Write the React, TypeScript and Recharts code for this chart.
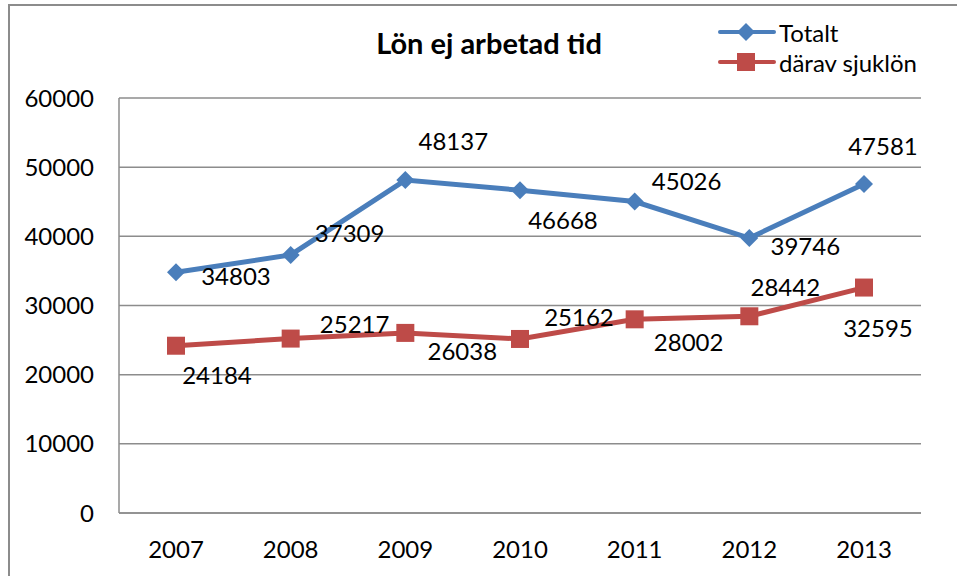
import React from "react";
import { LineChart, Line, XAxis, YAxis, CartesianGrid, LabelList } from "recharts";

const years = ["2007", "2008", "2009", "2010", "2011", "2012", "2013"];
const totalt = [34803, 37309, 48137, 46668, 45026, 39746, 47581];
const sjuklon = [24184, 25217, 26038, 25162, 28002, 28442, 32595];
const yTicks = [0, 10000, 20000, 30000, 40000, 50000, 60000];

// where Excel happened to drop each data label, relative to its point
const totaltLabelOffsets = [[60, 3], [59, -22], [48, -40], [43, 29], [52, -21], [56, 7], [19, -38]];
const sjuklonLabelOffsets = [[41, 29], [64, -15], [57, 18], [59, -22], [54, 22], [36, -30], [14, 40]];

const BLUE = "#4A7EBB";
const RED = "#BE4B48";
const GRID = "#8C8C8C";
const FONT = "Lato, 'Open Sans', sans-serif";
const FS = 24;

const data = years.map((year, i) => ({ year, totalt: totalt[i], sjuklon: sjuklon[i] }));

const Diamond = (props: any) => {
  const { cx, cy, fill } = props;
  if (cx == null || cy == null) return null;
  const r = 9;
  return (
    <polygon
      points={`${cx},${cy - r} ${cx + r},${cy} ${cx},${cy + r} ${cx - r},${cy}`}
      fill={fill}
    />
  );
};

const Square = (props: any) => {
  const { cx, cy, fill } = props;
  if (cx == null || cy == null) return null;
  const s = 18;
  return <rect x={cx - s / 2} y={cy - s / 2} width={s} height={s} fill={fill} />;
};

const makeLabel = (offsets: number[][]) => (props: any) => {
  const { x, y, value, index } = props;
  const [dx, dy] = offsets[index] || [0, -20];
  return (
    <text
      x={x + dx}
      y={y + dy}
      textAnchor="middle"
      dominantBaseline="central"
      fontSize={FS}
      fontFamily={FONT}
      fill="#000"
    >
      {value}
    </text>
  );
};

const LegendBox = () => {
  const rows = [
    { name: "Totalt", color: BLUE, shape: "diamond" },
    { name: "därav sjuklön", color: RED, shape: "square" },
  ];
  return (
    <div style={{ fontFamily: FONT, fontSize: FS, color: "#000" }}>
      {rows.map((r) => (
        <div key={r.name} style={{ display: "flex", alignItems: "center", height: 30 }}>
          <svg width={58} height={20} style={{ marginRight: 3 }}>
            <line x1={2} y1={10} x2={56} y2={10} stroke={r.color} strokeWidth={4} strokeLinecap="round" />
            {r.shape === "diamond" ? (
              <polygon points="28,1 37,10 28,19 19,10" fill={r.color} />
            ) : (
              <rect x={19} y={1} width={18} height={18} fill={r.color} />
            )}
          </svg>
          <span>{r.name}</span>
        </div>
      ))}
    </div>
  );
};

export default function App() {
  return (
    <div
      style={{
        position: "fixed",
        left: 0,
        top: 0,
        width: 957,
        height: 576,
        overflow: "hidden",
        background: "#fff",
        fontFamily: FONT,
      }}
    >
      <div
        style={{
          position: "absolute",
          left: 8,
          top: 4,
          width: 1100,
          height: 800,
          border: `2px solid ${GRID}`,
        }}
      />
      <div style={{ position: "absolute", left: 0, top: 0 }}>
        <LineChart width={957} height={576} data={data} margin={{ top: 98, right: 36, bottom: 23, left: 0 }}>
          <CartesianGrid vertical={false} stroke={GRID} strokeWidth={1.5} />
          <XAxis
            dataKey="year"
            padding={{ left: 57, right: 57 }}
            height={40}
            tickLine={false}
            tickSize={0}
            tickMargin={28}
            axisLine={{ stroke: GRID, strokeWidth: 1.5 }}
            tick={{ fill: "#000", fontSize: FS, fontFamily: FONT }}
          />
          <YAxis
            width={119}
            domain={[0, 60000]}
            ticks={yTicks}
            interval={0}
            tickLine={false}
            tickSize={0}
            tickMargin={25}
            axisLine={{ stroke: GRID, strokeWidth: 1.5 }}
            tick={{ fill: "#000", fontSize: FS, fontFamily: FONT }}
          />
          <Line
            type="linear"
            dataKey="totalt"
            name="Totalt"
            stroke={BLUE}
            strokeWidth={5}
            dot={<Diamond fill={BLUE} />}
            activeDot={false}
            isAnimationActive={false}
          >
            <LabelList dataKey="totalt" content={makeLabel(totaltLabelOffsets)} />
          </Line>
          <Line
            type="linear"
            dataKey="sjuklon"
            name="därav sjuklön"
            stroke={RED}
            strokeWidth={5}
            dot={<Square fill={RED} />}
            activeDot={false}
            isAnimationActive={false}
          >
            <LabelList dataKey="sjuklon" content={makeLabel(sjuklonLabelOffsets)} />
          </Line>
        </LineChart>
      </div>
      <div
        style={{
          position: "absolute",
          left: 0,
          top: 26,
          width: 978,
          textAlign: "center",
          fontSize: 29,
          fontWeight: 700,
          lineHeight: "34px",
        }}
      >
        Lön ej arbetad tid
      </div>
      <div style={{ position: "absolute", left: 718, top: 17 }}>
        <LegendBox />
      </div>
    </div>
  );
}
